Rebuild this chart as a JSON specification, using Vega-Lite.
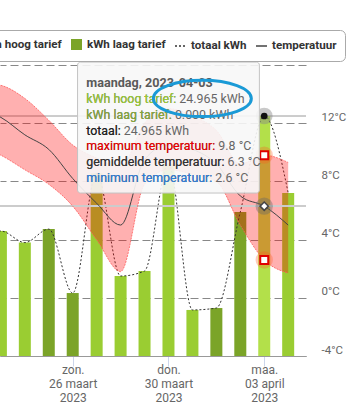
{
  "$schema": "https://vega.github.io/schema/vega-lite/v6.json",
  "width": 306,
  "height": 291,
  "autosize": "none",
  "padding": {"left": 0, "top": 65, "right": 53, "bottom": 62},
  "background": "#ffffff",
  "config": {
    "font": "Roboto",
    "view": {"stroke": null},
    "text": {"font": "Roboto"}
  },
  "datasets": {
    "dagen": [
      {"datum": "2023-03-22", "hoog": 12.0, "laag": 0, "totaal": 12.0, "tmax": 14.8, "tgem": 13.0, "tmin": 10.5},
      {"datum": "2023-03-23", "hoog": 13.0, "laag": 0, "totaal": 13.0, "tmax": 14.6, "tgem": 12.4, "tmin": 9.8},
      {"datum": "2023-03-24", "hoog": 11.8, "laag": 0, "totaal": 11.8, "tmax": 13.7, "tgem": 11.2, "tmin": 8.8},
      {"datum": "2023-03-25", "hoog": 0, "laag": 13.2, "totaal": 13.2, "tmax": 12.2, "tgem": 10.2, "tmin": 7.8},
      {"datum": "2023-03-26", "hoog": 0, "laag": 6.55, "totaal": 6.55, "tmax": 10.5, "tgem": 8.2, "tmin": 6.3},
      {"datum": "2023-03-27", "hoog": 19.0, "laag": 0, "totaal": 19.0, "tmax": 9.6, "tgem": 6.5, "tmin": 4.0},
      {"datum": "2023-03-28", "hoog": 8.32, "laag": 0, "totaal": 8.32, "tmax": 9.0, "tgem": 5.0, "tmin": 1.8},
      {"datum": "2023-03-29", "hoog": 8.84, "laag": 0, "totaal": 8.84, "tmax": 12.0, "tgem": 9.5, "tmin": 7.8},
      {"datum": "2023-03-30", "hoog": 20.0, "laag": 0, "totaal": 20.0, "tmax": 13.0, "tgem": 10.5, "tmin": 8.8},
      {"datum": "2023-03-31", "hoog": 4.79, "laag": 0, "totaal": 4.79, "tmax": 12.5, "tgem": 10.2, "tmin": 8.5},
      {"datum": "2023-04-01", "hoog": 0, "laag": 4.99, "totaal": 4.99, "tmax": 11.5, "tgem": 9.2, "tmin": 8.0},
      {"datum": "2023-04-02", "hoog": 0, "laag": 14.98, "totaal": 14.98, "tmax": 9.2, "tgem": 7.0, "tmin": 5.0},
      {"datum": "2023-04-03", "hoog": 24.965, "laag": 0, "totaal": 24.965, "tmax": 9.8, "tgem": 6.3, "tmin": 2.6},
      {"datum": "2023-04-04", "hoog": 16.96, "laag": 0, "totaal": 16.96, "tmax": 9.3, "tgem": 5.0, "tmin": 1.7}
    ],
    "tip": [
      {"regel": "a", "soort": "kop", "label": "maandag, 2023-04-03", "tekst": "maandag, 2023-04-03"},
      {"regel": "b", "soort": "hoog", "label": "kWh hoog tarief:", "tekst": "kWh hoog tarief: 24.965 kWh"},
      {"regel": "c", "soort": "laag", "label": "kWh laag tarief:", "tekst": "kWh laag tarief: 0.000 kWh"},
      {"regel": "d", "soort": "totaal", "label": "totaal:", "tekst": "totaal: 24.965 kWh"},
      {"regel": "e", "soort": "max", "label": "maximum temperatuur:", "tekst": "maximum temperatuur: 9.8 °C"},
      {"regel": "f", "soort": "gem", "label": "gemiddelde temperatuur:", "tekst": "gemiddelde temperatuur: 6.3 °C"},
      {"regel": "g", "soort": "min", "label": "minimum temperatuur:", "tekst": "minimum temperatuur: 2.6 °C"}
    ]
  },
  "layer": [
    {
      "data": {"name": "dagen"},
      "layer": [
        {
          "mark": {"type": "rule", "color": "#cccccc", "strokeWidth": 1},
          "encoding": {"y": {"datum": 24.965, "type": "quantitative", "axis": null}}
        },
        {
          "transform": [{"fold": ["hoog", "laag"], "as": ["tarief", "kwh"]}],
          "mark": {"type": "bar", "size": 12, "clip": true},
          "encoding": {
            "x": {
              "field": "datum", "type": "temporal", "title": null,
              "scale": {
                "type": "utc", "nice": false,
                "domain": [
                  {"year": 2023, "month": 3, "date": 23, "hours": 4, "minutes": 7, "seconds": 16, "utc": true},
                  {"year": 2023, "month": 4, "date": 4, "hours": 12, "minutes": 50, "seconds": 54, "utc": true}
                ]
              },
              "axis": {
                "title": null,
                "values": [
                  {"year": 2023, "month": 3, "date": 26, "utc": true},
                  {"year": 2023, "month": 3, "date": 30, "utc": true},
                  {"year": 2023, "month": 4, "date": 3, "utc": true}
                ],
                "labelExpr": "[['zon.','maa.','din.','woe.','don.','vri.','zat.'][utcday(datum.value)], utcFormat(datum.value, '%d') + ' ' + ['januari','februari','maart','april','mei','juni','juli','augustus','september','oktober','november','december'][utcmonth(datum.value)], utcFormat(datum.value, '%Y')]",
                "labelFont": "Roboto", "labelFontSize": 12, "labelColor": "#666666", "labelLineHeight": 14,
                "labelPadding": -2, "labelFlush": false, "labelOverlap": false, "labelBaseline": "top",
                "domainColor": "#999999", "tickColor": "#ccd6eb", "tickSize": 10, "grid": false
              }
            },
            "y": {
              "field": "kwh", "type": "quantitative", "stack": "zero",
              "scale": {"domain": [0, 30.27], "nice": false, "zero": true},
              "axis": null
            },
            "color": {
              "condition": {"test": "datum.tarief == 'hoog' && utcFormat(toDate(datum.datum), '%Y-%m-%d') == '2023-04-03'", "value": "#b3e04a"},
              "field": "tarief", "type": "nominal",
              "scale": {"domain": ["hoog", "laag", "totaal", "temperatuur"], "range": ["#9acd32", "#7ba428", "#ffffff", "#ffffff"]},
              "legend": {
                "orient": "none", "legendX": -46, "legendY": -35, "direction": "horizontal", "title": null,
                "labelExpr": "datum.value == 'hoog' ? 'kWh hoog tarief' : datum.value == 'laag' ? 'kWh laag tarief' : datum.value == 'totaal' ? 'totaal kWh' : 'temperatuur'",
                "labelFont": "Roboto", "labelFontSize": 11.6, "labelFontWeight": "bold", "labelColor": "#333333",
                "symbolSize": 121, "labelOffset": 4, "columnPadding": 6, "padding": 8,
                "strokeColor": "#aaaaaa", "cornerRadius": 5, "fillColor": "#ffffff",
                "symbolType": {"expr": "datum.value == 'totaal' || datum.value == 'temperatuur' ? 'stroke' : 'square'"},
                "symbolStrokeColor": {"expr": "datum.value == 'totaal' ? '#333333' : datum.value == 'temperatuur' ? '#444444' : 'transparent'"},
                "symbolDash": {"expr": "datum.value == 'totaal' ? [2,2] : [1,0]"},
                "symbolStrokeWidth": 1.5,
                "symbolOpacity": 1
              }
            }
          }
        },
        {
          "mark": {"type": "line", "interpolate": "monotone", "strokeDash": [2, 2], "strokeWidth": 1, "color": "#333333", "clip": true},
          "encoding": {
            "x": {"field": "datum", "type": "temporal"},
            "y": {"field": "totaal", "type": "quantitative", "axis": null}
          }
        },
        {
          "transform": [{"filter": "utcFormat(toDate(datum.datum), '%Y-%m-%d') == '2023-04-03'"}],
          "mark": {"type": "point", "filled": true, "shape": "circle", "size": 280, "color": "#888888", "opacity": 0.45},
          "encoding": {
            "x": {"field": "datum", "type": "temporal"},
            "y": {"field": "totaal", "type": "quantitative", "axis": null}
          }
        },
        {
          "transform": [{"filter": "utcFormat(toDate(datum.datum), '%Y-%m-%d') == '2023-04-03'"}],
          "mark": {"type": "point", "filled": true, "shape": "circle", "size": 45, "color": "#111111", "opacity": 1},
          "encoding": {
            "x": {"field": "datum", "type": "temporal"},
            "y": {"field": "totaal", "type": "quantitative", "axis": null}
          }
        }
      ]
    },
    {
      "data": {"name": "dagen"},
      "layer": [
        {
          "mark": {"type": "area", "interpolate": "monotone", "color": "#ff0000", "opacity": 0.31, "clip": true},
          "encoding": {
            "x": {"field": "datum", "type": "temporal"},
            "y": {
              "field": "tmax", "type": "quantitative", "title": null,
              "scale": {"domain": [-4, 16], "nice": false, "zero": false},
              "axis": {
                "orient": "right", "title": null, "values": [-4, 0, 4, 8, 12, 16],
                "labelExpr": "datum.value == 16 ? '' : datum.value + '°C'",
                "grid": true, "gridDash": [8, 4], "gridColor": "#888888", "gridWidth": 1,
                "domain": false, "ticks": false, "labelPadding": 15, "labelOffset": -6,
                "labelColor": "#666666", "labelFont": "Roboto", "labelFontSize": 11.5,
                "labelAlign": "left", "labelBaseline": "middle", "labelFlush": false
              }
            },
            "y2": {"field": "tmin"}
          }
        },
        {
          "mark": {"type": "rule", "color": "#cccccc", "strokeWidth": 1},
          "encoding": {"y": {"datum": 6.3, "type": "quantitative"}}
        },
        {
          "mark": {"type": "line", "interpolate": "monotone", "color": "#ff5a5a", "strokeWidth": 1, "strokeDash": [2, 1], "opacity": 0.8, "clip": true},
          "encoding": {
            "x": {"field": "datum", "type": "temporal"},
            "y": {"field": "tmax", "type": "quantitative"}
          }
        },
        {
          "mark": {"type": "line", "interpolate": "monotone", "color": "#ff5a5a", "strokeWidth": 1, "strokeDash": [2, 1], "opacity": 0.8, "clip": true},
          "encoding": {
            "x": {"field": "datum", "type": "temporal"},
            "y": {"field": "tmin", "type": "quantitative"}
          }
        },
        {
          "mark": {"type": "line", "interpolate": "monotone", "color": "#444444", "strokeWidth": 1, "clip": true},
          "encoding": {
            "x": {"field": "datum", "type": "temporal"},
            "y": {"field": "tgem", "type": "quantitative"}
          }
        },
        {
          "transform": [
            {"filter": "utcFormat(toDate(datum.datum), '%Y-%m-%d') == '2023-04-03'"},
            {"fold": ["tmax", "tmin"], "as": ["reeks", "temp"]}
          ],
          "mark": {"type": "point", "filled": true, "shape": "circle", "size": 300, "color": "#ff5a1a", "opacity": 0.3},
          "encoding": {
            "x": {"field": "datum", "type": "temporal"},
            "y": {"field": "temp", "type": "quantitative"}
          }
        },
        {
          "transform": [{"filter": "utcFormat(toDate(datum.datum), '%Y-%m-%d') == '2023-04-03'"}],
          "mark": {"type": "point", "filled": true, "shape": "circle", "size": 300, "color": "#666666", "opacity": 0.4},
          "encoding": {
            "x": {"field": "datum", "type": "temporal"},
            "y": {"field": "tgem", "type": "quantitative"}
          }
        },
        {
          "transform": [
            {"filter": "utcFormat(toDate(datum.datum), '%Y-%m-%d') == '2023-04-03'"},
            {"fold": ["tmax", "tmin"], "as": ["reeks", "temp"]}
          ],
          "mark": {"type": "point", "shape": "square", "size": 64, "filled": true, "color": "#ffffff", "stroke": "#e00000", "strokeWidth": 2, "opacity": 1},
          "encoding": {
            "x": {"field": "datum", "type": "temporal"},
            "y": {"field": "temp", "type": "quantitative"}
          }
        },
        {
          "transform": [{"filter": "utcFormat(toDate(datum.datum), '%Y-%m-%d') == '2023-04-03'"}],
          "mark": {"type": "point", "shape": "diamond", "size": 70, "filled": true, "color": "#ffffff", "stroke": "#444444", "strokeWidth": 1.5, "opacity": 1},
          "encoding": {
            "x": {"field": "datum", "type": "temporal"},
            "y": {"field": "tgem", "type": "quantitative"}
          }
        },
        {
          "transform": [{"filter": "utcFormat(toDate(datum.datum), '%Y-%m-%d') == '2023-04-03'"}],
          "mark": {"type": "rect", "color": "#f7f7f7", "fillOpacity": 0.9, "stroke": "#c4c4c4", "strokeWidth": 1, "cornerRadius": 3},
          "encoding": {
            "x": {"datum": {"year": 2023, "month": 3, "date": 26, "hours": 4, "minutes": 50, "seconds": 55, "utc": true}, "type": "temporal"},
            "x2": {"datum": {"year": 2023, "month": 4, "date": 2, "hours": 19, "minutes": 9, "seconds": 5, "utc": true}},
            "y": {"datum": 16.2, "type": "quantitative"},
            "y2": {"datum": 7.2}
          }
        }
      ]
    },
    {
      "data": {"name": "tip"},
      "layer": [
        {
          "transform": [{"filter": "datum.soort != 'kop'"}],
          "mark": {"type": "text", "align": "left", "baseline": "middle", "fontSize": 12.4, "color": "#666666"},
          "encoding": {
            "x": {"datum": {"year": 2023, "month": 3, "date": 26, "hours": 13, "minutes": 34, "seconds": 33, "utc": true}, "type": "temporal"},
            "y": {"field": "regel", "type": "ordinal", "scale": {"type": "point", "domain": ["a", "b", "c", "d", "e", "f", "g"], "range": [18, 113], "padding": 0}, "axis": null},
            "text": {"field": "tekst"}
          }
        },
        {
          "transform": [{"filter": "datum.soort != 'kop'"}],
          "mark": {"type": "text", "align": "left", "baseline": "middle", "fontSize": 12.4},
          "encoding": {
            "x": {"datum": {"year": 2023, "month": 3, "date": 26, "hours": 13, "minutes": 34, "seconds": 33, "utc": true}, "type": "temporal"},
            "y": {"field": "regel", "type": "ordinal", "axis": null},
            "text": {"field": "label"},
            "color": {
              "field": "soort", "type": "nominal", "legend": null,
              "scale": {"domain": ["hoog", "laag", "totaal", "max", "gem", "min"], "range": ["#9acd32", "#86a83a", "#222222", "#ee0000", "#333333", "#2f7ed8"]}
            }
          }
        },
        {
          "transform": [{"filter": "datum.soort == 'kop'"}],
          "mark": {"type": "text", "align": "left", "baseline": "middle", "fontSize": 12.6, "fontWeight": "bold", "color": "#5a5a5a"},
          "encoding": {
            "x": {"datum": {"year": 2023, "month": 3, "date": 26, "hours": 13, "minutes": 34, "seconds": 33, "utc": true}, "type": "temporal"},
            "y": {"field": "regel", "type": "ordinal", "axis": null},
            "text": {"field": "tekst"}
          }
        }
      ]
    },
    {
      "data": {"values": [{"notitie": "omcirkeld"}]},
      "mark": {
        "type": "point", "filled": false, "size": 9604,
        "shape": "M -1 0 A 1 0.37 0 1 1 1 0 A 1 0.37 0 1 1 -1 0",
        "color": "#1a9ad6", "strokeWidth": 3, "opacity": 1
      },
      "encoding": {
        "x": {"datum": {"year": 2023, "month": 3, "date": 31, "hours": 9, "minutes": 56, "seconds": 22, "utc": true}, "type": "temporal"},
        "y": {"datum": 13.7, "type": "quantitative", "scale": {"domain": [-4, 16], "nice": false, "zero": false}, "axis": null}
      }
    }
  ],
  "resolve": {"scale": {"y": "independent", "color": "independent"}}
}
